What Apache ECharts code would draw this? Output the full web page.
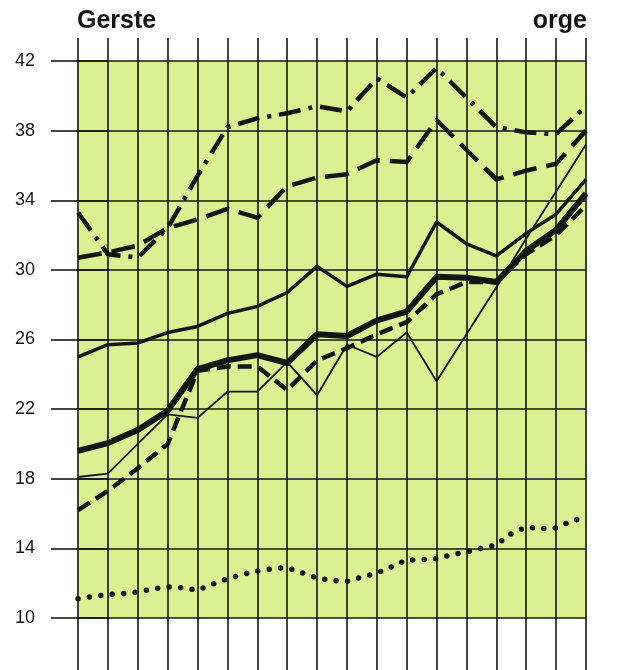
<!DOCTYPE html>
<html>
<head>
<meta charset="utf-8">
<script src="https://cdn.jsdelivr.net/npm/echarts@6/dist/echarts.min.js"></script>
<style>
html,body{margin:0;padding:0;background:#fff;}
#chart{width:624px;height:670px;}
</style>
</head>
<body>
<div id="chart"></div>
<script>
// x positions of the 18 vertical grid lines (periods)
const periods = [0,1,2,3,4,5,6,7,8,9,10,11,12,13,14,15,16,17];
const yTicks = [10,14,18,22,26,30,34,38,42];

// series values
const dashDot   = [33.3,30.9,30.7,32.4,35.4,38.2,38.7,39.0,39.4,39.1,41.0,39.9,41.6,39.9,38.2,37.9,37.8,39.4];
const longDash  = [30.7,31.0,31.4,32.4,32.9,33.5,33.0,34.8,35.3,35.5,36.3,36.2,38.6,36.9,35.2,35.7,36.1,38.0];
const solidMid  = [25.0,25.7,25.8,26.4,26.75,27.5,27.9,28.7,30.2,29.05,29.75,29.6,32.75,31.5,30.8,32.1,33.2,35.2];
const solidThick= [19.6,20.05,20.8,21.9,24.3,24.8,25.1,24.65,26.3,26.2,27.1,27.6,29.6,29.55,29.3,31.1,32.3,34.4];
const shortDash = [16.2,17.3,18.6,20.0,24.2,24.45,24.45,23.1,24.8,25.5,26.3,27.0,28.6,29.3,29.3,30.9,32.0,33.7];
const solidThin = [18.1,18.3,20.0,21.7,21.5,23.0,23.0,24.7,22.8,25.7,25.0,26.4,23.6,26.3,29.0,31.8,34.5,37.2];

const dotX = [0,0.5,1,1.5,2,2.5,3,3.5,4,4.5,5,5.5,6,6.5,7,7.5,8,8.5,9,9.5,10,10.5,11,11.5,12,12.5,13,13.5,14,14.5,15,15.5,16,16.5,17];
const dotY = [11.1,11.24,11.35,11.4,11.5,11.67,11.78,11.73,11.6,11.95,12.25,12.5,12.7,12.83,12.9,12.6,12.3,12.15,12.1,12.35,12.58,12.95,13.33,13.35,13.4,13.63,13.8,14.0,14.2,14.85,15.22,15.13,15.18,15.55,15.8];

const titleLeft = 'Gerste';
const titleRight = 'orge';

function pairs(xs, ys){ return ys.map((v,i)=>[xs[i], v]); }

const ink = '#151515';
const chart = echarts.init(document.getElementById('chart'), null, {renderer:'canvas'});

function line(name, data, width, type, extra){
  return Object.assign({
    name, type:'line', data: pairs(periods, data), xAxisIndex:0, yAxisIndex:0,
    symbol:'none', showSymbol:false, silent:true,
    lineStyle:{color:ink, width, type, cap:'butt', join:'round'}
  }, extra||{});
}

chart.setOption({
  animation:false,
  backgroundColor:'#ffffff',
  title:[
    {text:titleLeft, left:77, top:9, padding:0,
     textStyle:{fontFamily:'Liberation Sans', fontWeight:'bold', fontSize:25, color:ink}},
    {text:titleRight, right:37, top:9, padding:0,
     textStyle:{fontFamily:'Liberation Sans', fontWeight:'bold', fontSize:25, color:ink}}
  ],
  grid:{left:78, top:61, width:508, height:557, show:true, backgroundColor:'#daf092', borderWidth:0},
  xAxis:[
    {type:'value', min:0, max:17, interval:1, position:'bottom',
     axisLine:{show:false}, axisLabel:{show:false},
     axisTick:{show:true, length:52, lineStyle:{color:ink, width:1.6}},
     splitLine:{show:true, lineStyle:{color:ink, width:1.6}}},
    {type:'value', min:0, max:17, interval:1, position:'top',
     axisLine:{show:false}, axisLabel:{show:false},
     axisTick:{show:true, length:23, lineStyle:{color:ink, width:1.6}},
     splitLine:{show:false}}
  ],
  yAxis:[
    {type:'value', min:10, max:42, interval:4, position:'left',
     axisLine:{show:false},
     axisTick:{show:true, length:27, lineStyle:{color:ink, width:1.6}},
     axisLabel:{show:true, margin:43, fontFamily:'Liberation Sans', fontSize:18, color:ink,
       formatter:(v)=> yTicks.includes(v) ? String(v) : ''},
     splitLine:{show:true, lineStyle:{color:ink, width:1.6}}},
    {type:'value', min:10, max:42, interval:4, position:'right',
     axisLine:{show:false}, axisLabel:{show:false},
     axisTick:{show:true, length:31, lineStyle:{color:ink, width:1.6}},
     splitLine:{show:false}}
  ],
  series:[
    line('dashDot', dashDot, 4.5, [22,8,4,8]),
    line('longDash', longDash, 4.5, [24,10]),
    line('solidMid', solidMid, 3.5, 'solid'),
    line('solidThin', solidThin, 1.8, 'solid'),
    line('shortDash', shortDash, 4.5, [14,7]),
    line('solidThick', solidThick, 6, 'solid'),
    {name:'dotted', type:'line', data: pairs(dotX, dotY), xAxisIndex:0, yAxisIndex:0,
     symbol:'none', showSymbol:false, silent:true,
     lineStyle:{color:ink, width:5.5, type:[0,11.5], cap:'round', join:'round'}}
  ]
});
</script>
</body>
</html>
